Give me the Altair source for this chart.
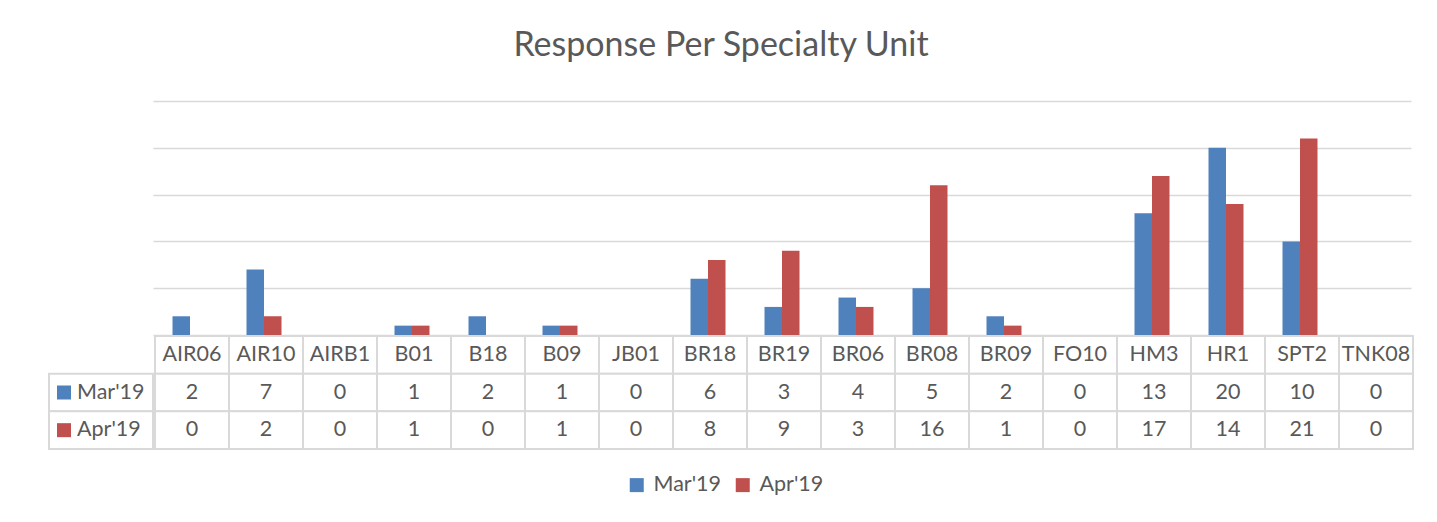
import altair as alt
import pandas as pd

categories = ["AIR06", "AIR10", "AIRB1", "B01", "B18", "B09", "JB01", "BR18", "BR19",
              "BR06", "BR08", "BR09", "FO10", "HM3", "HR1", "SPT2", "TNK08"]
mar = [2, 7, 0, 1, 2, 1, 0, 6, 3, 4, 5, 2, 0, 13, 20, 10, 0]
apr = [0, 2, 0, 1, 0, 1, 0, 8, 9, 3, 16, 1, 0, 17, 14, 21, 0]
series = ["Mar'19", "Apr'19"]
colors = ["#4F81BD", "#C0504D"]
grid_values = [0, 5, 10, 15, 20, 25]
title_text = "Response Per Specialty Unit"

FONT = "Lato"
TXT = "#595959"
LINE = "#D9D9D9"
FS = 21.5
W_PLOT = 1258
W_LAB = 104
H_PLOT = 234
H_TAB = 113

bars_df = pd.DataFrame(
    [{"unit": c, "series": series[0], "value": m} for c, m in zip(categories, mar)]
    + [{"unit": c, "series": series[1], "value": a} for c, a in zip(categories, apr)]
)

rows = ["hdr"] + series
table_df = pd.DataFrame(
    [{"unit": c, "row": "hdr", "label": c} for c in categories]
    + [{"unit": c, "row": series[0], "label": str(m)} for c, m in zip(categories, mar)]
    + [{"unit": c, "row": series[1], "label": str(a)} for c, a in zip(categories, apr)]
)
lab_df = pd.DataFrame({"row": series, "series": series})

leg = alt.Legend(
    orient="none", legendX=577, legendY=373, direction="horizontal", title=None,
    symbolType="square", symbolSize=196, symbolStrokeWidth=0, labelFont=FONT,
    labelFontSize=FS, labelColor=TXT, columnPadding=11, labelOffset=6,
)
color = alt.Color("series:N", sort=series, scale=alt.Scale(domain=series, range=colors), legend=leg)

spacer = alt.Chart(pd.DataFrame({"v": [0]})).mark_point(opacity=0).properties(width=W_LAB, height=H_PLOT)

bars = alt.Chart(bars_df).mark_bar().encode(
    x=alt.X("unit:N", sort=categories, axis=None,
            scale=alt.Scale(paddingInner=0.527, paddingOuter=0.2635)),
    xOffset=alt.XOffset("series:N", sort=series, scale=alt.Scale(paddingInner=0, paddingOuter=0)),
    y=alt.Y("value:Q", scale=alt.Scale(domain=[0, 25], nice=False),
            axis=alt.Axis(values=grid_values, labels=False, ticks=False, domain=False,
                          grid=True, gridColor=LINE, gridWidth=1.5, title=None)),
    color=color,
).properties(width=W_PLOT, height=H_PLOT)

xs_tab = alt.X("unit:N", sort=categories, axis=None, scale=alt.Scale(paddingInner=0, paddingOuter=0))
ys_tab = alt.Y("row:N", sort=rows, axis=None, scale=alt.Scale(domain=rows, paddingInner=0, paddingOuter=0))

tab_base = alt.Chart(table_df)
table = alt.layer(
    tab_base.mark_rect(fill="white", stroke=LINE, strokeWidth=2).encode(x=xs_tab, y=ys_tab),
    tab_base.mark_text(font=FONT, fontSize=FS, color=TXT).encode(x=xs_tab, y=ys_tab, text="label:N"),
).properties(width=W_PLOT, height=H_TAB)

lab_base = alt.Chart(lab_df)
labcol = alt.layer(
    lab_base.mark_rect(fill="white", stroke=LINE, strokeWidth=2).encode(y=ys_tab),
    lab_base.mark_square(size=196, opacity=1).encode(x=alt.value(15), y=ys_tab, color=color),
    lab_base.mark_text(font=FONT, fontSize=FS, color=TXT, align="left").encode(
        x=alt.value(28), y=ys_tab, text="series:N"),
).properties(width=W_LAB, height=H_TAB)

chart = alt.vconcat(
    alt.hconcat(spacer, bars, spacing=0),
    alt.hconcat(labcol, table, spacing=0),
    spacing=0,
    title=alt.TitleParams(title_text, font=FONT, fontSize=34, fontWeight="normal", color=TXT,
                          anchor="middle", offset=38, dx=-10),
).properties(
    padding={"left": 40, "top": 21, "right": 10, "bottom": 10}
).configure_view(stroke=None).configure_concat(spacing=0)

chart.save("out.html", embed_options={"renderer": "svg", "actions": False})
